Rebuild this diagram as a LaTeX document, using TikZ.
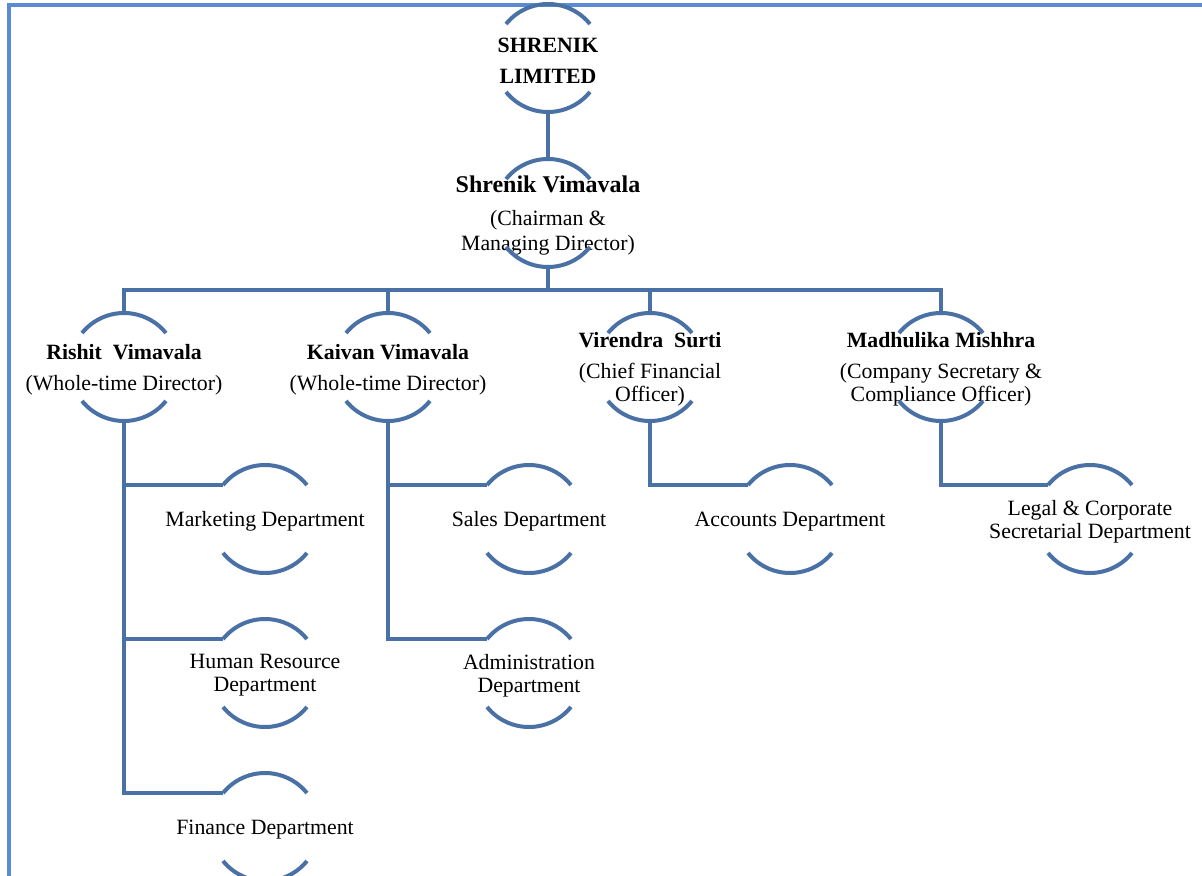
\documentclass[tikz,border=0pt]{standalone}
\usepackage{fontspec}
\setmainfont{Liberation Serif}
\usetikzlibrary{calc}
\definecolor{linec}{HTML}{4A71A5}
\definecolor{framec}{HTML}{5B8BD2}
\tikzset{
  conn/.style={draw=linec, line width=2pt},
  arcl/.style={draw=linec, line width=2pt},
  orgbox/.style={align=center, inner sep=0pt, yshift=-1.3pt, font=\fontsize{10.9}{11.5}\selectfont},
}
\newcommand{\orgrings}[1]{%
  \draw[arcl] ($(#1)+(141:27pt)$) arc[start angle=141,end angle=39,radius=27pt];
  \draw[arcl] ($(#1)+(219:27pt)$) arc[start angle=219,end angle=321,radius=27pt];}
\begin{document}
\begin{tikzpicture}[x=0.5pt,y=-0.5pt]
\useasboundingbox (0,0) rectangle (1202,876);
\clip (0,0) rectangle (1202,876);
\draw[framec, line width=1.7pt] (9,1000) -- (9,5) -- (1300,5);

% ring centres
\coordinate (top) at (548,58);
\coordinate (ceo) at (548,213);
\coordinate (d1) at (124,367);
\coordinate (d2) at (388,367);
\coordinate (d3) at (650,367);
\coordinate (d4) at (941,367);
\coordinate (m1) at (265,519);
\coordinate (m2) at (265,673);
\coordinate (m3) at (265,827);
\coordinate (s1) at (529,519);
\coordinate (s2) at (529,673);
\coordinate (a1) at (790,519);
\coordinate (l1) at (1090,519);

% texts
\node[orgbox] (topt) at (top) {\bfseries SHRENIK\\[4pt]\bfseries LIMITED};
\node[orgbox] (ceot) at (ceo) {{\fontsize{12}{12}\selectfont\bfseries Shrenik Vimavala}\\[5pt](Chairman \&\\[1pt]Managing Director)};
\node[orgbox] (d1t) at (d1) {\textbf{Rishit\ \ Vimavala}\\[4pt](Whole-time Director)};
\node[orgbox] (d2t) at (d2) {\textbf{Kaivan Vimavala}\\[4pt](Whole-time Director)};
\node[orgbox] (d3t) at (d3) {\textbf{Virendra\ \ Surti}\\[4pt](Chief Financial\\Officer)};
\node[orgbox] (d4t) at (d4) {\textbf{Madhulika Mishhra}\\[4pt](Company Secretary \&\\Compliance Officer)};
\node[orgbox] (m1t) at (m1) {Marketing Department};
\node[orgbox] (m2t) at (m2) {Human Resource\\Department};
\node[orgbox] (m3t) at (m3) {Finance Department};
\node[orgbox] (s1t) at (s1) {Sales Department};
\node[orgbox] (s2t) at (s2) {Administration\\Department};
\node[orgbox] (a1t) at (a1) {Accounts Department};
\node[orgbox] (l1t) at (l1) {Legal \& Corporate\\Secretarial Department};

\foreach \n in {top,ceo,d1,d2,d3,d4,m1,m2,m3,s1,s2,a1,l1} {\orgrings{\n}}

% connectors
\coordinate (bus) at (548,290);
\draw[conn] ($(top)+(0,-27pt)$) -- ($(ceo)+(0,27pt)$);
\draw[conn] ($(ceo)+(0,-27pt)$) -- (bus);
\draw[conn] ($(d1)+(0,27pt)$) |- (bus) -| ($(d4)+(0,27pt)$);
\draw[conn] (bus) -| ($(d2)+(0,27pt)$);
\draw[conn] (bus) -| ($(d3)+(0,27pt)$);

\draw[conn] ($(d1)+(0,-27pt)$) |- ($(m1)+(141:27pt)$);
\draw[conn] ($(d1)+(0,-27pt)$) |- ($(m2)+(141:27pt)$);
\draw[conn] ($(d1)+(0,-27pt)$) |- ($(m3)+(141:27pt)$);
\draw[conn] ($(d2)+(0,-27pt)$) |- ($(s1)+(141:27pt)$);
\draw[conn] ($(d2)+(0,-27pt)$) |- ($(s2)+(141:27pt)$);
\draw[conn] ($(d3)+(0,-27pt)$) |- ($(a1)+(141:27pt)$);
\draw[conn] ($(d4)+(0,-27pt)$) |- ($(l1)+(141:27pt)$);
\end{tikzpicture}
\end{document}
